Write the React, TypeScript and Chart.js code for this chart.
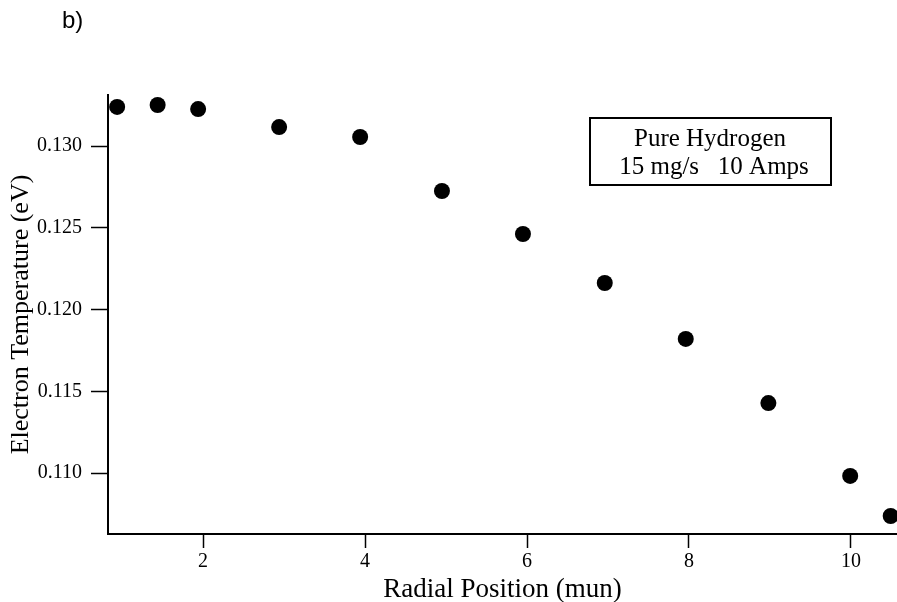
import React, { useEffect, useRef } from "react";
import { Chart, registerables } from "chart.js";

Chart.register(...registerables);

// ---- data ----
const radialPosition = [0.94, 1.44, 1.94, 2.94, 3.94, 4.95, 5.95, 6.96, 7.96, 8.98, 9.99, 10.49];
const electronTemp = [0.13239, 0.13251, 0.13226, 0.13116, 0.13055, 0.12725, 0.12462, 0.12162, 0.1182, 0.11428, 0.10982, 0.10737];
const xTicks = [2, 4, 6, 8, 10];
const yTicks = [0.11, 0.115, 0.12, 0.125, 0.13];
const xRange = [0.827, 10.568];
const yRange = [0.10627, 0.13312];
const xTitle = "Radial Position (mun)";
const yTitle = "Electron Temperature (eV)";
const boxLines = ["Pure Hydrogen", "15 mg/s   10 Amps"];
const panelLabel = "b)";

const SERIF = "'Liberation Serif', 'Times New Roman', serif";
const SANS = "'Liberation Sans', Arial, sans-serif";

const annotationPlugin = {
  id: "annot",
  afterDraw(chart: any) {
    const ctx = chart.ctx as CanvasRenderingContext2D;
    ctx.save();
    // panel label
    ctx.fillStyle = "#000";
    ctx.font = `24px ${SANS}`;
    ctx.textAlign = "left";
    ctx.textBaseline = "alphabetic";
    ctx.fillText(panelLabel, 62, 28);
    // legend-like box
    ctx.strokeStyle = "#000";
    ctx.lineWidth = 2;
    ctx.strokeRect(590, 118, 241, 67);
    ctx.font = `25px ${SERIF}`;
    ctx.textAlign = "center";
    ctx.fillText(boxLines[0], 710, 146);
    ctx.fillText(boxLines[1], 714, 174);
    ctx.restore();
  },
};

export default function App() {
  const ref = useRef<HTMLCanvasElement | null>(null);
  useEffect(() => {
    if (!ref.current) return;
    const chart = new Chart(ref.current, {
      type: "scatter",
      data: {
        datasets: [
          {
            data: radialPosition.map((x, i) => ({ x, y: electronTemp[i] })),
            pointRadius: 8,
            pointHoverRadius: 8,
            backgroundColor: "#000",
            borderWidth: 0,
            showLine: false,
            clip: false as any,
          },
        ],
      },
      options: {
        animation: false,
        responsive: false,
        devicePixelRatio: 1,
        layout: { autoPadding: false, padding: { top: 95, right: 0, left: 0, bottom: 0 } },
        plugins: { legend: { display: false }, tooltip: { enabled: false } },
        scales: {
          x: {
            type: "linear",
            min: xRange[0],
            max: xRange[1],
            afterBuildTicks: (s: any) => {
              s.ticks = xTicks.map((v) => ({ value: v }));
            },
            afterFit: (s: any) => {
              s.height = 68;
              s.paddingLeft = 0;
              s.paddingRight = 0;
            },
            ticks: {
              color: "#000",
              font: { family: SERIF, size: 20 },
              padding: 2,
              maxRotation: 0,
              autoSkip: false,
              callback: (v: any) => String(v),
            },
            grid: { drawOnChartArea: false, drawTicks: true, tickLength: 14, tickColor: "#000", tickWidth: 1.5 },
            border: { color: "#000", width: 2 },
            title: {
              display: true,
              text: xTitle,
              color: "#000",
              font: { family: SERIF, size: 27, lineHeight: 0.9 },
              padding: { top: 0, bottom: 0 },
            },
          },
          y: {
            type: "linear",
            min: yRange[0],
            max: yRange[1],
            afterBuildTicks: (s: any) => {
              s.ticks = yTicks.map((v) => ({ value: v }));
            },
            afterFit: (s: any) => {
              s.width = 108;
              s.paddingTop = 0;
              s.paddingBottom = 0;
            },
            ticks: {
              color: "#000",
              font: { family: SERIF, size: 20 },
              padding: 9,
              autoSkip: false,
              callback: (v: any) => Number(v).toFixed(3),
            },
            grid: { drawOnChartArea: false, drawTicks: true, tickLength: 17, tickColor: "#000", tickWidth: 1.5 },
            border: { color: "#000", width: 2 },
            title: {
              display: true,
              text: yTitle,
              color: "#000",
              font: { family: SERIF, size: 26 },
              padding: { top: 6, bottom: 0 },
            },
          },
        },
      },
      plugins: [annotationPlugin],
    });
    return () => chart.destroy();
  }, []);
  return (
    <div style={{ position: "absolute", left: 0, top: 0, width: 897, height: 602, background: "#fff" }}>
      <canvas ref={ref} width={897} height={602} style={{ display: "block" }} />
    </div>
  );
}
